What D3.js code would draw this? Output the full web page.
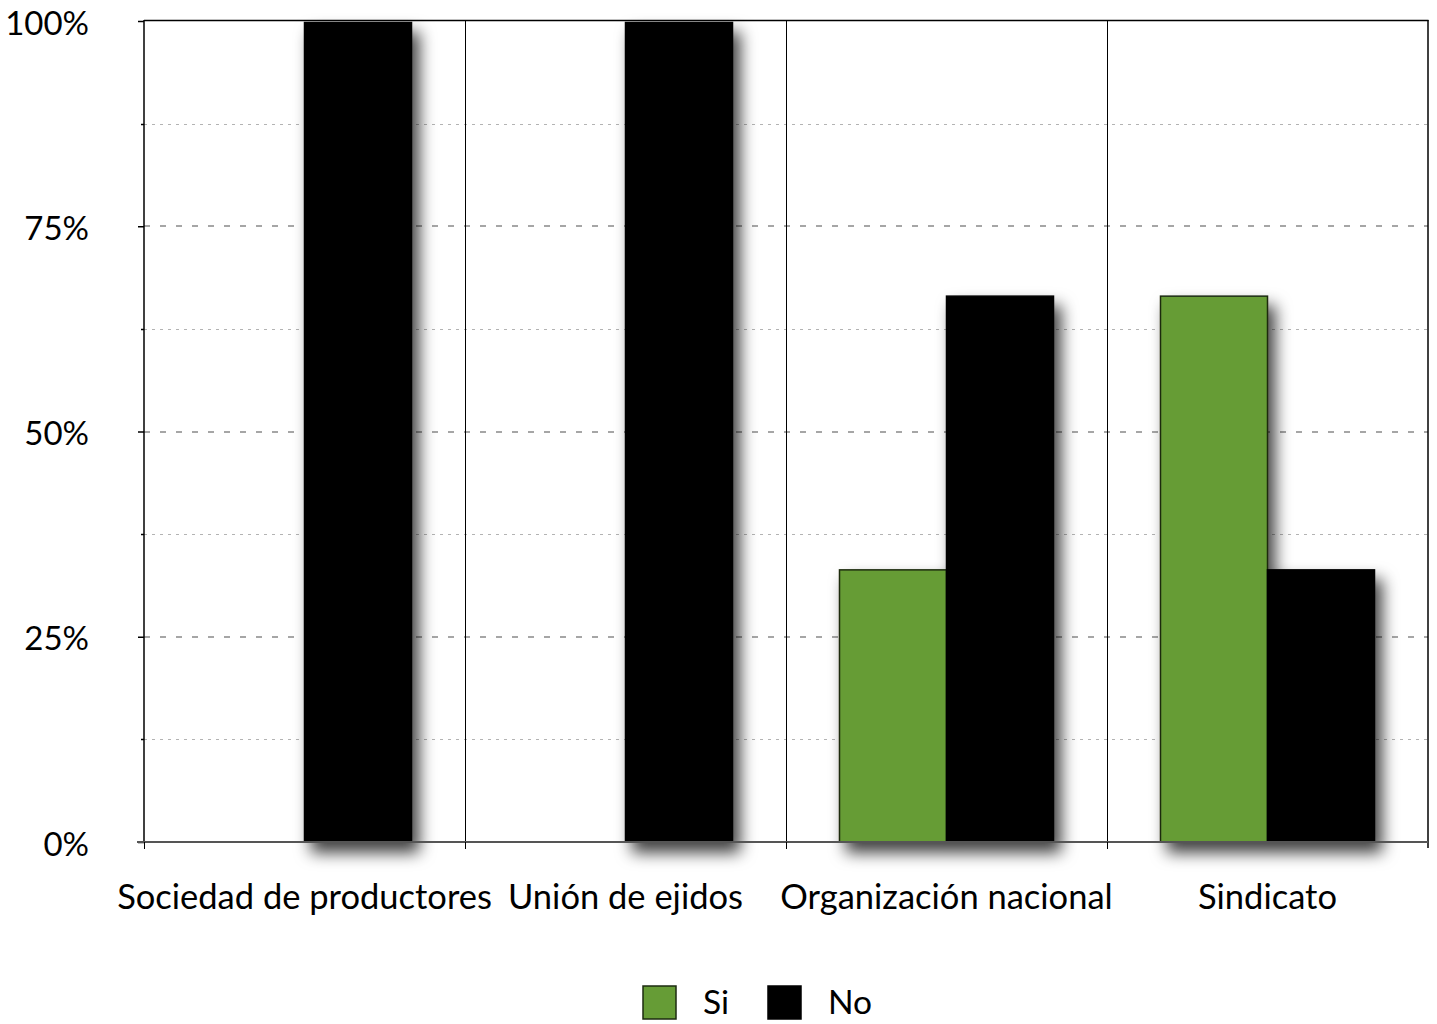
<!DOCTYPE html>
<html>
<head>
<meta charset="utf-8">
<script src="https://cdn.jsdelivr.net/npm/d3@7"></script>
<style>
  html, body { margin: 0; padding: 0; background: #fff; }
  svg { display: block; font-family: Lato, "Open Sans", sans-serif; }
</style>
</head>
<body>
<svg id="chart" width="1437" height="1024"></svg>
<script>
// Share of answers per organisation type
const categories = ["Sociedad de productores", "Unión de ejidos", "Organización nacional", "Sindicato"];
const seriesNames = ["Si", "No"];
const siValues = [0, 0, 33.33, 66.67];
const noValues = [100, 100, 66.67, 33.33];
const majorTicks = [0, 25, 50, 75, 100];
const minorTicks = [12.5, 37.5, 62.5, 87.5];
const colors = { Si: "#669c36", No: "#000000" };

const svg = d3.select("#chart");
const margin = { left: 144, right: 1428, top: 21, bottom: 842 };

const x = d3.scaleBand().domain(categories).range([margin.left, margin.right]);
const xInner = d3.scaleBand().domain(seriesNames)
  .range([0, x.bandwidth()]).paddingOuter(0.5).paddingInner(0);
const y = d3.scaleLinear().domain([0, 100]).range([margin.bottom, margin.top]);

const defs = svg.append("defs");
const f = defs.append("filter").attr("id", "shadow")
  .attr("x", "-30%").attr("y", "-10%").attr("width", "170%").attr("height", "130%");
f.append("feDropShadow").attr("dx", 7).attr("dy", 10)
  .attr("stdDeviation", 8).attr("flood-color", "#000").attr("flood-opacity", 0.75);

// gridlines
const grid = svg.append("g");
grid.selectAll("line.minor").data(minorTicks).join("line")
  .attr("class", "minor")
  .attr("x1", margin.left).attr("x2", margin.right)
  .attr("y1", d => Math.round(y(d)) + 0.5).attr("y2", d => Math.round(y(d)) + 0.5)
  .attr("stroke", "#b3b3b3").attr("stroke-width", 1).attr("stroke-dasharray", "3,5");
grid.selectAll("line.major").data([25, 50, 75]).join("line")
  .attr("class", "major")
  .attr("x1", margin.left).attr("x2", margin.right)
  .attr("y1", d => Math.round(y(d))).attr("y2", d => Math.round(y(d)))
  .attr("stroke", "#a6a6a6").attr("stroke-width", 2).attr("stroke-dasharray", "6,10");

// category separators
svg.append("g").selectAll("line").data(categories.slice(1)).join("line")
  .attr("x1", d => Math.round(x(d)) + 0.5).attr("x2", d => Math.round(x(d)) + 0.5)
  .attr("y1", margin.top).attr("y2", margin.bottom)
  .attr("stroke", "#000").attr("stroke-width", 1);

// bars
const rows = categories.map((c, i) => ({ cat: c, vals: [
  { key: "Si", value: siValues[i] }, { key: "No", value: noValues[i] }] }));
const barG = svg.append("g").attr("filter", "url(#shadow)");
rows.forEach(r => {
  barG.selectAll(null).data(r.vals.filter(v => v.value > 0)).join("rect")
    .attr("x", d => x(r.cat) + xInner(d.key))
    .attr("width", xInner.bandwidth())
    .attr("y", d => y(d.value) + 1.5)
    .attr("height", d => margin.bottom - y(d.value) - 1.5)
    .attr("fill", d => colors[d.key])
    .attr("stroke", d => d.key === "Si" ? "#1c2b10" : "#000")
    .attr("stroke-width", 1.5);
});

// frame: top, left, right
svg.append("line").attr("x1", margin.left).attr("x2", margin.right + 0.5)
  .attr("y1", 20.5).attr("y2", 20.5).attr("stroke", "#000").attr("stroke-width", 1.5);
svg.append("line").attr("x1", margin.left).attr("x2", margin.left)
  .attr("y1", 20).attr("y2", margin.bottom).attr("stroke", "#000").attr("stroke-width", 1.5);
svg.append("line").attr("x1", margin.right).attr("x2", margin.right)
  .attr("y1", 20).attr("y2", margin.bottom + 6).attr("stroke", "#000").attr("stroke-width", 1.5);

// y axis with major and minor ticks
const yAxis = svg.append("g").attr("transform", `translate(${margin.left},0)`)
  .call(d3.axisLeft(y).tickValues(majorTicks).tickFormat(d => d + "%").tickSize(6).tickPadding(49));
yAxis.select(".domain").remove();
yAxis.selectAll(".tick line").attr("stroke", "#000").attr("stroke-width", 1.5);
yAxis.selectAll(".tick text").attr("font-size", 33).attr("fill", "#000")
  .attr("dy", "0.4em")
  .attr("font-family", "Lato, 'Open Sans', sans-serif");
svg.append("g").selectAll("line").data(minorTicks).join("line")
  .attr("x1", margin.left - 3).attr("x2", margin.left)
  .attr("y1", d => Math.round(y(d)) + 0.5).attr("y2", d => Math.round(y(d)) + 0.5)
  .attr("stroke", "#000").attr("stroke-width", 1.5);

// x axis
const xAxis = svg.append("g").attr("transform", `translate(0,${margin.bottom})`)
  .call(d3.axisBottom(x).tickSize(0).tickPadding(43));
xAxis.select(".domain").remove();
xAxis.selectAll(".tick text").attr("font-size", 34.5).attr("fill", "#000")
  .attr("font-family", "Lato, 'Open Sans', sans-serif");
svg.append("line").attr("x1", margin.left - 7).attr("x2", margin.right)
  .attr("y1", margin.bottom).attr("y2", margin.bottom)
  .attr("stroke", "#555").attr("stroke-width", 2);
svg.append("g").selectAll("line").data(categories).join("line")
  .attr("x1", d => Math.round(x(d)) + 0.5).attr("x2", d => Math.round(x(d)) + 0.5)
  .attr("y1", margin.bottom).attr("y2", margin.bottom + 7)
  .attr("stroke", "#000").attr("stroke-width", 1);

// legend
const legend = svg.append("g");
const legendItems = [{ key: "Si", x: 643 }, { key: "No", x: 768 }];
legendItems.forEach(it => {
  legend.append("rect").attr("x", it.x).attr("y", 986).attr("width", 33).attr("height", 33)
    .attr("fill", colors[it.key])
    .attr("stroke", it.key === "Si" ? "#1c2b10" : "#000").attr("stroke-width", 1.5);
  legend.append("text").attr("x", it.x + 60).attr("y", 1014)
    .attr("font-size", 33.5).attr("fill", "#000").text(it.key);
});
</script>
</body>
</html>
